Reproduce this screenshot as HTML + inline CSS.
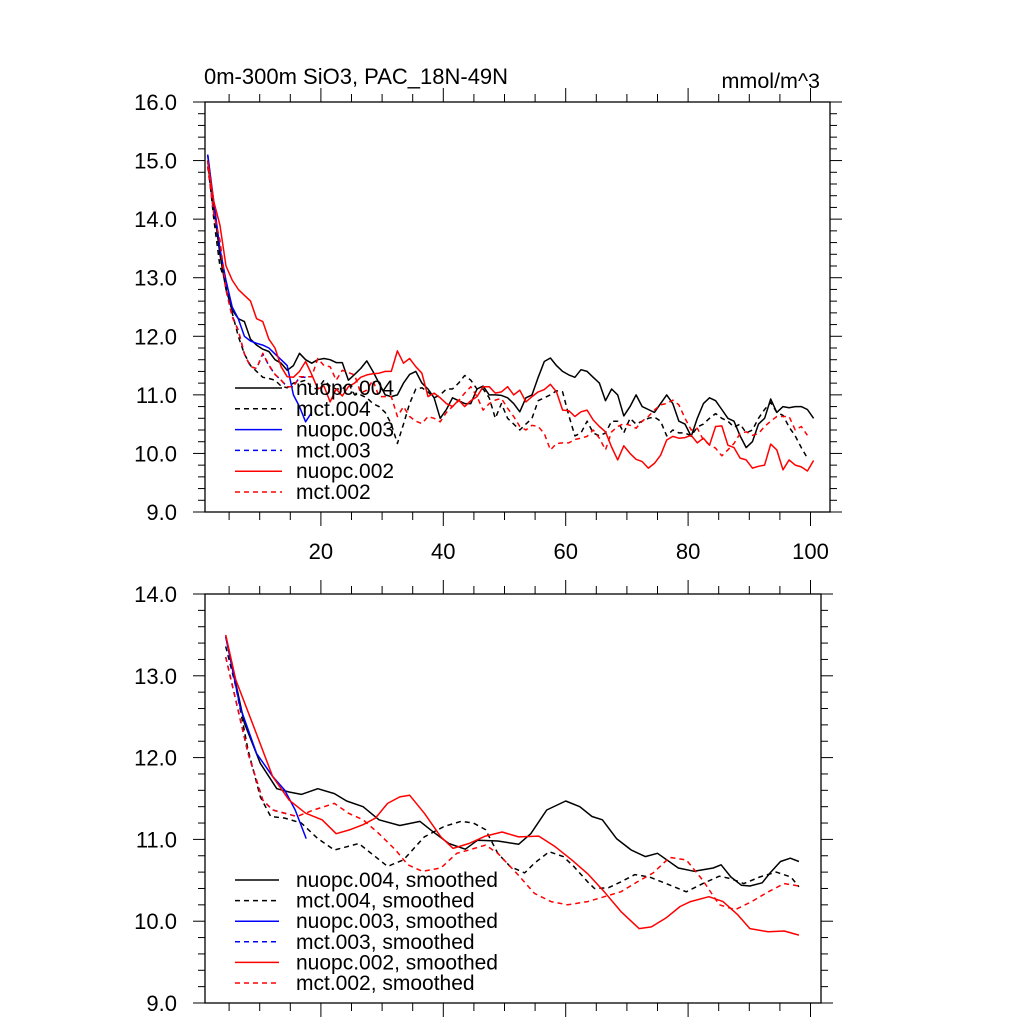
<!DOCTYPE html>
<html><head><meta charset="utf-8"><style>
html,body{margin:0;padding:0;background:#fff;}
svg{display:block;font-family:"Liberation Sans",Arial,sans-serif;}
</style></head><body>
<svg id="chart" width="1024" height="1024" viewBox="0 0 1024 1024">
<text x="204" y="84" font-size="22">0m-300m SiO3, PAC_18N-49N</text>
<text x="820" y="88" font-size="21.5" text-anchor="end">mmol/m^3</text>
<g id="top"></g>
<g id="bot"></g>
</svg>
<script>
// ---------- Top panel data (annual, x = index + 0.5) ----------
const topSeriesNames = ["nuopc.004","mct.004","nuopc.003","mct.003","nuopc.002","mct.002"];
const topYTicks = [9,10,11,12,13,14,15,16];
const topXTicks = [20,40,60,80,100];
const n004 = [15.1,14.2,13.4,12.8,12.45,12.3,12.25,11.95,11.85,11.78,
11.74,11.6,11.54,11.42,11.5,11.71,11.6,11.54,11.6,11.62,
11.6,11.55,11.55,11.25,11.35,11.45,11.58,11.4,11.2,11.0,
10.97,11.0,11.2,11.35,11.4,11.2,11.1,10.95,10.6,10.75,
10.95,10.9,10.85,10.85,11.1,11.15,11.0,11.0,10.99,10.95,
10.85,10.71,10.95,11.0,11.3,11.57,11.63,11.5,11.4,11.34,
11.3,11.43,11.4,11.3,11.2,10.9,11.1,11.0,10.64,10.8,
11.0,10.8,10.75,10.7,10.85,11.0,10.85,10.55,10.5,10.29,
10.6,10.85,10.95,10.9,10.75,10.6,10.55,10.3,10.1,10.2,
10.5,10.6,10.93,10.7,10.8,10.78,10.8,10.8,10.75,10.6];
const m004 = [15.0,14.0,13.2,12.9,12.4,12.0,11.7,11.5,11.4,11.3,
11.28,11.25,11.15,11.12,11.2,11.22,11.25,11.12,11.1,11.25,
11.15,11.1,11.1,11.2,11.0,11.0,10.95,10.85,10.8,10.7,
10.5,10.17,10.5,10.85,11.1,11.12,11.05,10.95,11.0,11.1,
11.1,11.2,11.33,11.25,11.1,11.1,10.95,10.6,10.85,10.6,
10.5,10.4,10.5,10.6,10.9,10.95,11.0,11.07,11.05,10.65,
10.3,10.35,10.55,10.35,10.3,10.35,10.55,10.55,10.35,10.6,
10.5,10.55,10.6,10.62,10.55,10.3,10.4,10.35,10.35,10.3,
10.45,10.5,10.6,10.68,10.6,10.55,10.45,10.5,10.35,10.4,
10.6,10.75,10.87,10.7,10.65,10.45,10.3,10.1,9.92];
const n003 = [15.1,14.3,13.5,12.95,12.5,12.3,12.0,11.92,11.88,11.85,11.8,11.7,11.6,11.5,11.0,10.8,10.54,10.7];
const m003 = [14.9,14.1,13.6,12.8,12.35,12.1,11.7,11.48,11.45,11.7,11.5,11.35,11.25,11.14,11.14,11.3,11.3];
const n002 = [15.0,14.3,13.9,13.2,12.96,12.8,12.7,12.6,12.3,12.25,
11.95,11.8,11.48,11.31,11.3,11.4,11.57,11.35,11.1,11.15,
10.88,11.1,10.98,11.14,11.2,11.3,11.34,11.36,11.37,11.4,
11.4,11.75,11.54,11.62,11.48,11.37,10.97,11.03,10.95,10.85,
10.8,10.91,10.8,10.9,10.97,11.14,11.14,11.03,11.05,11.14,
11.0,11.08,10.88,10.97,11.05,11.09,11.18,11.05,10.74,10.73,
10.63,10.71,10.74,10.57,10.46,10.37,10.11,9.89,10.13,10.0,
9.9,9.86,9.75,9.83,9.97,10.23,10.29,10.26,10.27,10.31,
10.18,10.26,10.14,10.46,10.47,10.14,10.1,9.92,9.89,9.75,
9.78,9.8,10.16,10.06,9.72,9.89,9.8,9.77,9.7,9.88];
const m002 = [14.9,14.1,13.64,12.79,12.33,12.1,11.7,11.48,11.45,11.71,
11.51,11.35,11.25,11.14,11.14,11.31,11.31,11.31,11.62,11.5,
11.48,11.25,11.42,11.38,11.34,11.03,11.08,11.25,10.97,10.97,
10.97,10.63,10.8,10.63,10.55,10.51,10.63,10.6,10.54,10.7,
10.8,10.9,11.03,11.14,10.97,10.74,10.85,10.91,10.94,10.77,
10.63,10.46,10.4,10.48,10.46,10.34,10.06,10.17,10.18,10.18,
10.24,10.26,10.29,10.4,10.26,10.06,10.37,10.46,10.51,10.48,
10.43,10.55,10.63,10.74,10.83,10.85,10.91,10.83,10.6,10.4,
10.43,10.23,10.15,10.09,9.96,10.06,10.17,10.34,10.37,10.31,
10.34,10.46,10.55,10.63,10.63,10.63,10.4,10.46,10.31];

// ---------- Bottom panel data (smoothed: year / value) ----------
const botYTicks = [9,10,11,12,13,14];
const sn004Yr = [4.45,7.5,10.1,12.8,14.8,16.8,19.5,22.2,24.2,26.9,29.5,32.9,36.2,38.2,40.9,43.6,45.6,48.9,52.3,54.3,56.9,60,62.3,64.3,66,68.3,70.7,73,75,78.4,81,84.1,85.4,87,88.7,90.1,92.1,93.4,95.1,96.7,98.1];
const sn004Val = [13.48,12.42,11.93,11.62,11.58,11.55,11.62,11.56,11.47,11.4,11.24,11.17,11.22,11.1,10.95,10.88,10.99,10.98,10.94,11.07,11.36,11.47,11.4,11.28,11.24,11.01,10.87,10.79,10.83,10.65,10.61,10.65,10.69,10.54,10.44,10.43,10.47,10.59,10.73,10.77,10.73];
const sm004Yr = [4.45,6.1,8.1,10.1,11.8,14.1,16.8,19.5,22.2,24.2,26.2,28.2,30.9,33.5,36.9,40.2,42.9,44.9,46.9,48.9,50.9,53.3,54.9,57.3,59.6,61.3,63.6,64.7,67,69,71.3,73.7,76.4,79.7,82.4,85.1,87,89.1,91.7,94.4,96.8,98.1];
const sm004Val = [13.36,12.87,12.09,11.52,11.28,11.26,11.2,11.01,10.87,10.91,10.95,10.83,10.67,10.75,11.03,11.16,11.22,11.2,11.12,10.83,10.67,10.59,10.71,10.85,10.79,10.67,10.48,10.4,10.41,10.48,10.57,10.54,10.46,10.36,10.46,10.55,10.52,10.46,10.54,10.6,10.54,10.42];
const sn003Yr = [4.45,6.8,9.5,12.1,14.1,15.8,17.6];
const sn003Val = [13.48,12.62,12.05,11.77,11.6,11.36,11.01];
const sm003Yr = [4.45,6.1,8.1,10.5,12.1,16.1];
const sm003Val = [13.23,12.7,12.05,11.48,11.36,11.28];
const sn002Yr = [4.45,6.1,8.8,12.1,14.8,17.5,20.2,22.5,24.8,26.9,28.9,30.9,32.9,34.5,36.9,39.6,41.6,44.2,46.9,49.6,52.3,55.6,58.3,61,63.6,66.3,69,72,74,76.4,78.7,80.4,83.4,85.7,88.1,90.1,93.1,95.7,98.1];
const sn002Val = [13.5,12.95,12.42,11.77,11.48,11.32,11.24,11.07,11.12,11.18,11.26,11.44,11.52,11.54,11.32,11.03,10.89,10.95,11.04,11.09,11.03,11.04,10.91,10.75,10.58,10.36,10.12,9.91,9.93,10.04,10.18,10.24,10.3,10.24,10.08,9.91,9.87,9.88,9.83];
const sm002Yr = [4.45,6.1,8.1,10.5,12.1,16.1,18.8,22.2,24.5,26.9,29.5,32.2,34.2,36.6,39.6,42.2,44.2,46.9,48.9,52.3,54.9,57.6,60.3,63.6,66.3,69,71.7,74.3,77,79.7,82.4,85.1,87.7,90.4,93.1,95.7,98.1];
const sm002Val = [13.23,12.7,12.05,11.48,11.36,11.28,11.36,11.44,11.32,11.24,11.07,10.87,10.69,10.61,10.65,10.83,10.87,10.93,10.83,10.56,10.34,10.24,10.2,10.24,10.3,10.36,10.48,10.59,10.78,10.75,10.5,10.2,10.14,10.24,10.36,10.46,10.43];

const NS = "http://www.w3.org/2000/svg";
function mk(parent, tag, attrs){
  const e = document.createElementNS(NS, tag);
  for (const k in attrs) e.setAttribute(k, attrs[k]);
  parent.appendChild(e);
  return e;
}
const PX_PER_YEAR = 6.12, X0 = 198.5;
function xs(yr){ return X0 + PX_PER_YEAR*yr; }

function axes(g, L, R, T, B, ymin, ymax, yTicks, xLabels){
  const ys = v => B - (v-ymin)/(ymax-ymin)*(B-T);
  const fr = mk(g,'rect',{x:L,y:T,width:R-L,height:B-T,fill:'none',stroke:'#000','stroke-width':1.3});
  
  
  for (let v=ymin; v<=ymax+1e-9; v+=0.2){
    const major = Math.abs(v-Math.round(v))<1e-6;
    const len = major?12:7;
    const y = ys(v);
    const t1 = mk(g,'line',{x1:L-len,y1:y,x2:L,y2:y,stroke:'#000','stroke-width':1});
    
    
    const t2 = mk(g,'line',{x1:R,y1:y,x2:R+len,y2:y,stroke:'#000','stroke-width':1});
    
    
  }
  yTicks.forEach(v=>{
    const t = mk(g,'text',{x:177,y:ys(v)+8,'font-size':22,'text-anchor':'end'});
    t.textContent = v.toFixed(1);
    
    
  });
  for (let yr=5; xs(yr)<R; yr+=5){
    const major = yr%20===0;
    const len = major?14:8;
    const x = xs(yr);
    const a = mk(g,'line',{x1:x,y1:B,x2:x,y2:B+len,stroke:'#000','stroke-width':1});
    
    
    const b = mk(g,'line',{x1:x,y1:T-len,x2:x,y2:T,stroke:'#000','stroke-width':1});
    
    
  }
  if (xLabels) xLabels.forEach(v=>{
    const t = mk(g,'text',{x:xs(v),y:B+47,'font-size':22,'text-anchor':'middle'});
    t.textContent = v;
    
    
  });
  return ys;
}
function series(g, xsArr, vals, ys, color, dashed, name){
  const pts = vals.map((v,i)=> xs(xsArr[i]).toFixed(1)+','+ys(v).toFixed(1)).join(' ');
  const p = mk(g,'polyline',{points:pts,fill:'none',stroke:color,'stroke-width':1.5,'stroke-dasharray':dashed?'5,4':'none','stroke-linejoin':'round'});
  
  
}
function legend(g, x0, y0, dy, labels, colors, dashes, len){
  labels.forEach((lab,i)=>{
    const y = y0 + i*dy;
    const l = mk(g,'line',{x1:x0,y1:y,x2:x0+len,y2:y,stroke:colors[i],'stroke-width':1.5,'stroke-dasharray':dashes[i]?'5,4':'none'});
    
    
    const t = mk(g,'text',{x:296,y:y+7,'font-size':21});
    t.textContent = lab;
    
    
  });
}
const colors = ['#000','#000','#0000ff','#0000ff','#ff0000','#ff0000'];
const dashes = [false,true,false,true,false,true];
const idx = arr => arr.map((_,i)=>i+1.5);

const gt = document.getElementById('top');
const ysT = axes(gt, 205, 830, 102, 512, 9, 16, topYTicks, topXTicks);
series(gt, idx(n004), n004, ysT, colors[0], false, 'line-nuopc-004');
series(gt, idx(m004), m004, ysT, colors[1], true, 'line-mct-004');
series(gt, idx(n003), n003, ysT, colors[2], false, 'line-nuopc-003');
series(gt, idx(m003), m003, ysT, colors[3], true, 'line-mct-003');
series(gt, idx(n002), n002, ysT, colors[4], false, 'line-nuopc-002');
series(gt, idx(m002), m002, ysT, colors[5], true, 'line-mct-002');
legend(gt, 235, 388, 20.8, topSeriesNames, colors, dashes, 47);

const gb = document.getElementById('bot');
const ysB = axes(gb, 205, 821, 594, 1003, 9, 14, botYTicks, null);
series(gb, sn004Yr, sn004Val, ysB, colors[0], false, 'smoothed-nuopc-004');
series(gb, sm004Yr, sm004Val, ysB, colors[1], true, 'smoothed-mct-004');
series(gb, sn003Yr, sn003Val, ysB, colors[2], false, 'smoothed-nuopc-003');
series(gb, sm003Yr, sm003Val, ysB, colors[3], true, 'smoothed-mct-003');
series(gb, sn002Yr, sn002Val, ysB, colors[4], false, 'smoothed-nuopc-002');
series(gb, sm002Yr, sm002Val, ysB, colors[5], true, 'smoothed-mct-002');
legend(gb, 235, 880, 20.6, topSeriesNames.map(s=>s+', smoothed'), colors, dashes, 44);
</script>
</body></html>
